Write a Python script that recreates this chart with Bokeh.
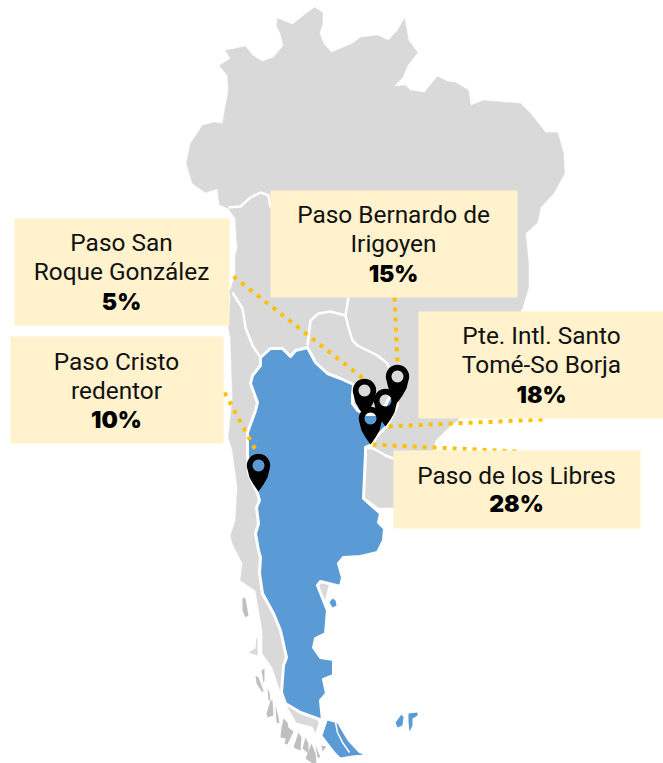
import numpy as np
from bokeh.plotting import figure
from bokeh.models import Range1d, ColumnDataSource
from bokeh.core.properties import value
from bokeh.embed import file_html
from bokeh.resources import INLINE

# --- map outlines
land_x = [225,245,252,262,273,283,280,276,277,292,307,314,322,322,319,323,331,352,360,377,388,397,404,408,417,407,402,393,405,410,424,437,447,455,468,470,483,520,530,545,557,563,564,553,540,537,525,528,528,522,500,480,457,447,435,432,415,393,378,366,340,300,318,315,312,296,282,272,262,262,255,240,242,232,230,235,237,232,228,232,230,228,230,229,233,235,235,237,236,235,228,219,217,205,192,186,190,202,213,222,228,227,219,230]
land_y = [50,46,55,61,57,45,33,25,18,24,12,7,12,23,33,43,52,43,37,35,40,30,18,40,52,65,77,86,85,90,92,76,81,82,90,105,100,103,113,132,132,153,173,193,207,222,233,263,287,307,350,390,420,428,440,450,490,507,507,498,540,690,722,732,726,722,697,667,653,630,590,580,563,543,535,520,487,450,437,397,337,327,297,292,280,273,255,247,237,218,208,204,188,192,183,163,143,125,122,123,90,75,65,58]

arg_x = [260,270,282,290,295,307,315,327,340,353,352,352,357,365,378,385,390,396,397,392,386,376,372,365,365,363,380,378,384,383,377,360,343,338,342,340,320,317,327,325,315,313,320,333,333,323,326,320,322,300,285,281,283,286,280,273,262,259,260,258,255,258,256,259,257,248,247,247,255,257,250,252,260]
arg_y = [357,348,348,356,350,347,362,373,378,384,395,403,410,414,414,405,395,398,405,415,426,436,444,447,453,498,513,522,528,540,552,556,557,563,577,586,581,585,610,633,638,647,657,659,675,679,693,700,720,712,703,692,665,657,630,613,593,573,557,550,533,523,507,500,493,473,453,432,410,402,383,375,365]

tdf_x = [327,337,347,358,363,352,340,335,331,322]
tdf_y = [720,723,740,752,754,755,757,752,747,735]
tdf_split_x = [335,337,342,349]
tdf_split_y = [722,732,742,752]
blue_isles_x = [[395,401,403,402,397],[408,417,417,412,412,409,408],[329,332,335,336,332]]
blue_isles_y = [[722,714,717,725,727],[713,712,715,718,725,731,722],[602,598,600,605,607]]

border_x = [[228,240,250,260,268,270],[232,242,245,252,260],[307,310,318,330,345,348],[345,348,352,357,377,387,388],[365,373,385,393]]
border_y = [[207,206,197,192,195,207],[292,308,327,345,357],[345,320,313,311,315,297],[315,327,340,345,355,363,367],[447,448,455,458]]

grey_isles_x = [[242,245,248,245,242],[255,258,263,262,256],[261,264,264,263],[267,269,270,268],[270,272,273,267,266],[275,278,279,276],[283,287,290,285,280,281],[288,293,287,284],[298,301,300,293],[305,308,308,302],[311,315,316,312,305],[315,320,317],[321,326,322]]
grey_isles_y = [[597,598,615,617,610],[675,677,690,692,683],[670,668,680,683],[688,692,700,700],[700,700,715,717,713],[705,717,723,722],[718,722,737,738,737,727],[727,731,744,743],[732,737,750,747],[737,743,753,748],[743,753,762,763,758],[745,757,757],[745,746,751]]
pale_isle_x = [248,255,256,257,257]
pale_isle_y = [652,648,637,638,655]

# --- callouts
box_left = [270,14,10,418,393]
box_right = [517,229,223,663,640]
box_top = [190,218,336,311,450]
box_bottom = [297,325,443,418,528]
label_lines = [["Paso Bernardo de","Irigoyen"],["Paso San","Roque González"],["Paso Cristo","redentor"],["Pte. Intl. Santo","Tomé-So Borja"],["Paso de los Libres"]]
shares = ["15%","5%","10%","18%","28%"]
label_cx = [393,121,116,541,516]
first_base = [214,242,361,335,475]
share_base = [273,301,419,394,503]

leader_x = [[394,397],[233,364],[224,258],[542,386],[516,372]]
leader_y = [[297,364],[276,379],[392,455],[419,426],[451,444]]

pin_x = [364,397,385,370,258]
pin_y = [390,376,400,418,465]

p = figure(width=663, height=763, x_range=Range1d(0,663), y_range=Range1d(763,0),
           toolbar_location=None, output_backend="svg", min_border=0,
           background_fill_color="white", border_fill_color="white", outline_line_color=None)
p.xaxis.visible = False
p.yaxis.visible = False
p.xgrid.visible = False
p.ygrid.visible = False

GREY, BLUE = "#D9D9D9", "#5B9BD5"
p.patch(land_x, land_y, fill_color=GREY, line_color=GREY, line_width=0.5)
p.patches(grey_isles_x, grey_isles_y, fill_color="#BFBFBF", line_color=None)
p.patch(pale_isle_x, pale_isle_y, fill_color=GREY, line_color=None)
p.multi_line(border_x, border_y, line_color="white", line_width=2.5, line_join="round")
p.patch(arg_x, arg_y, fill_color=BLUE, line_color="white", line_width=3, line_join="round")
p.patch(tdf_x, tdf_y, fill_color=BLUE, line_color=None)
p.line(tdf_split_x, tdf_split_y, line_color="white", line_width=1.5)
p.patches(blue_isles_x, blue_isles_y, fill_color=BLUE, line_color=None)

for lx, ly in zip(leader_x, leader_y):
    p.line(lx, ly, line_color="#FFC000", line_width=4, line_dash="4 6")

p.quad(left=box_left, right=box_right, top=box_top, bottom=box_bottom, fill_color="#FFF2CC", line_color=None)

xs, ys, ts = [], [], []
for cx, base, lines in zip(label_cx, first_base, label_lines):
    for i, t in enumerate(lines):
        xs.append(cx); ys.append(base + i*29); ts.append(t)
p.text(xs, ys, text=ts, text_font=value("Roboto"), text_font_size="24.4px", text_color="#111111",
       text_align="center", text_baseline="alphabetic")
p.text(label_cx, share_base, text=shares, text_font=value("Inter Black, Inter"), text_font_style="bold",
       text_font_size="23px", text_color="black", text_align="center", text_baseline="alphabetic")

# pin silhouette, relative to the head's centre
ang = np.radians(np.arange(160, 381, 10))
hx = 11.7*np.cos(ang); hy = 11.7*np.sin(ang)
ox = list(hx) + [9.0, 5.0, 0.0, -5.0, -9.0]
oy = list(hy) + [12.0, 19.0, 26.0, 19.0, 12.0]
ha = np.radians(np.arange(0, 360, 15))
ix = 6.0*np.cos(ha); iy = 6.0*np.sin(ha)
mx = [[[[c+v for v in ox], [c+v for v in ix]]] for c in pin_x]
my = [[[[c+v for v in oy], [c+v for v in iy]]] for c in pin_y]
p.multi_polygons(xs=mx, ys=my, fill_color="black", line_color=None)

open("out.html", "w").write(file_html(p, INLINE))
